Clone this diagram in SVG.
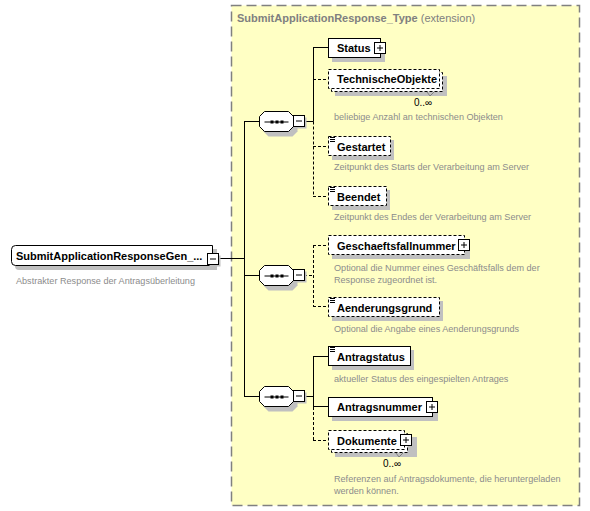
<svg xmlns="http://www.w3.org/2000/svg" width="590" height="511" viewBox="0 0 590 511">
<style>
.name{font-family:"Liberation Sans",Arial,sans-serif;font-weight:bold;font-size:11px;fill:#000}
.desc{font-family:"Liberation Sans",Arial,sans-serif;font-size:9.1px;fill:#8c8c8c}
.occ{font-family:"Liberation Sans",Arial,sans-serif;font-size:10px;fill:#000}
.box{fill:#fff;stroke:#000;stroke-width:1}
.opt{fill:#fff;stroke:#000;stroke-width:1;stroke-dasharray:3,2}
.shadow{fill:#c0c0c0;stroke:none}
.line{fill:none;stroke:#000;stroke-width:1}
.dline{fill:none;stroke:#000;stroke-width:1;stroke-dasharray:3,2}
.ctrl{fill:#fff;stroke:#000;stroke-width:1}
</style>
<defs>
<g id="minus"><rect class="shadow" x="2" y="2" width="11" height="11"/><rect class="ctrl" x="0" y="0" width="11" height="11"/><line class="line" x1="2.5" y1="5.5" x2="8.5" y2="5.5"/></g>
<g id="plus"><rect class="ctrl" x="0" y="0" width="11" height="11"/><line class="line" x1="2.5" y1="5.5" x2="8.5" y2="5.5"/><line class="line" x1="5.5" y1="2.5" x2="5.5" y2="8.5"/></g>
<g id="doc"><line class="line" x1="0" y1="0.5" x2="5" y2="0.5"/><line class="line" x1="0" y1="2.5" x2="5" y2="2.5"/><line class="line" x1="0" y1="4.5" x2="5" y2="4.5"/></g>
<g id="seq">
<polygon class="shadow" points="9,4 33,4 38,9 38,20 33,25 9,25 4,20 4,9"/>
<polygon class="ctrl" points="5,0 29,0 34,5 34,15 29,20 5,20 0,15 0,5"/>
<line class="line" x1="5" y1="10.5" x2="29" y2="10.5"/>
<rect x="11" y="9" width="3" height="3" fill="#000"/><rect x="16" y="9" width="3" height="3" fill="#000"/><rect x="21" y="9" width="3" height="3" fill="#000"/>
</g>
</defs>

<rect id="type-bg" x="231.5" y="5.5" width="348" height="500" fill="#ffffc4" stroke="#808080" stroke-width="1.5" stroke-dasharray="10,5"/>
<text x="237" y="22" font-family="Liberation Sans,Arial,sans-serif" font-size="11px" fill="#808080"><tspan font-weight="bold">SubmitApplicationResponse_Type</tspan> (extension)</text>

<g id="connectors">
<polyline class="line" points="218,258.5 244.5,258.5"/>
<line class="line" x1="244.5" y1="121" x2="244.5" y2="396"/>
<line class="line" x1="244" y1="121.5" x2="259" y2="121.5"/>
<line class="line" x1="244" y1="275.5" x2="259" y2="275.5"/>
<line class="line" x1="244" y1="396.5" x2="259" y2="396.5"/>
<line class="line" x1="304" y1="121.5" x2="313.5" y2="121.5"/>
<line class="line" x1="313.5" y1="47" x2="313.5" y2="121.5"/>
<line class="dline" x1="313.5" y1="121.5" x2="313.5" y2="197"/>
<line class="line" x1="313" y1="47.5" x2="328" y2="47.5"/>
<line class="dline" x1="313" y1="79.5" x2="328" y2="79.5"/>
<line class="dline" x1="313" y1="146.5" x2="328" y2="146.5"/>
<line class="dline" x1="313" y1="196.5" x2="328" y2="196.5"/>
<line class="dline" x1="304" y1="275.5" x2="313.5" y2="275.5"/>
<line class="dline" x1="313.5" y1="245" x2="313.5" y2="307"/>
<line class="dline" x1="313" y1="245.5" x2="328" y2="245.5"/>
<line class="dline" x1="313" y1="306.5" x2="328" y2="306.5"/>
<line class="line" x1="304" y1="396.5" x2="313.5" y2="396.5"/>
<line class="line" x1="313.5" y1="356" x2="313.5" y2="407"/>
<line class="dline" x1="313.5" y1="407" x2="313.5" y2="440"/>
<line class="line" x1="313" y1="356.5" x2="328" y2="356.5"/>
<line class="line" x1="313" y1="406.5" x2="328" y2="406.5"/>
<line class="dline" x1="313" y1="440.5" x2="328" y2="440.5"/>
</g>

<g id="root">
<path class="shadow" d="M19,249 H217 V270 H19 Q15,270 15,266 V253 Q15,249 19,249 Z"/>
<path class="box" d="M15.5,245.5 H212.5 V265.5 H15.5 Q11.5,265.5 11.5,261.5 V249.5 Q11.5,245.5 15.5,245.5 Z"/>
<text class="name" x="16" y="259.5">SubmitApplicationResponseGen_...</text>
<use href="#minus" x="207.5" y="253.5"/>
<text class="desc" x="16" y="284">Abstrakter Response der Antragsüberleitung</text>
</g>

<g id="seq1"><use href="#seq" x="259.5" y="111.5"/><use href="#minus" x="293.5" y="115.5"/></g>
<g id="seq2"><use href="#seq" x="259.5" y="265.5"/><use href="#minus" x="293.5" y="269.5"/></g>
<g id="seq3"><use href="#seq" x="259.5" y="386.5"/><use href="#minus" x="293.5" y="390.5"/></g>

<g id="status">
<rect class="shadow" x="332" y="42" width="53" height="20"/>
<rect class="box" x="328.5" y="38.5" width="52" height="19"/>
<text class="name" x="337" y="52">Status</text>
<use href="#plus" x="374.5" y="42.5"/>
</g>

<g id="technischeobjekte">
<rect class="shadow" x="335" y="76" width="112" height="20"/>
<rect class="opt" x="331.5" y="72.5" width="111" height="19"/>
<rect class="opt" x="328.5" y="69.5" width="111" height="19"/>
<text class="name" x="337" y="83">TechnischeObjekte</text>
<polyline fill="none" stroke="#808080" points="427,92 430,96 434,92"/>
<text class="occ" x="414" y="106">0..∞</text>
<text class="desc" x="334" y="120">beliebige Anzahl an technischen Objekten</text>
</g>

<g id="gestartet">
<rect class="shadow" x="332" y="140" width="62" height="20"/>
<rect class="opt" x="328.5" y="136.5" width="62" height="19"/>
<use href="#doc" x="330" y="137"/>
<text class="name" x="337" y="151">Gestartet</text>
<text class="desc" x="334" y="170">Zeitpunkt des Starts der Verarbeitung am Server</text>
</g>

<g id="beendet">
<rect class="shadow" x="332" y="190" width="58" height="20"/>
<rect class="opt" x="328.5" y="186.5" width="58" height="19"/>
<use href="#doc" x="330" y="187"/>
<text class="name" x="337" y="201">Beendet</text>
<text class="desc" x="334" y="220">Zeitpunkt des Endes der Verarbeitung am Server</text>
</g>

<g id="geschaeftsfallnummer">
<rect class="shadow" x="332" y="239" width="138" height="20"/>
<rect class="opt" x="328.5" y="235.5" width="136" height="19"/>
<text class="name" x="337" y="250">Geschaeftsfallnummer</text>
<use href="#plus" x="458.5" y="239.5"/>
<text class="desc" x="334" y="271">Optional die Nummer eines Geschäftsfalls dem der</text>
<text class="desc" x="334" y="283">Response zugeordnet ist.</text>
</g>

<g id="aenderungsgrund">
<rect class="shadow" x="332" y="301" width="111" height="20"/>
<rect class="opt" x="328.5" y="297.5" width="111" height="19"/>
<use href="#doc" x="330" y="298"/>
<text class="name" x="337" y="312">Aenderungsgrund</text>
<text class="desc" x="334" y="332">Optional die Angabe eines Aenderungsgrunds</text>
</g>

<g id="antragstatus">
<rect class="shadow" x="332" y="350" width="82" height="20"/>
<rect class="box" x="328.5" y="346.5" width="82" height="19"/>
<use href="#doc" x="330" y="347"/>
<text class="name" x="337" y="361">Antragstatus</text>
<text class="desc" x="334" y="382">aktueller Status des eingespielten Antrages</text>
</g>

<g id="antragsnummer">
<rect class="shadow" x="332" y="401" width="106" height="20"/>
<rect class="box" x="328.5" y="397.5" width="104" height="19"/>
<text class="name" x="337" y="411">Antragsnummer</text>
<use href="#plus" x="426.5" y="401.5"/>
</g>

<g id="dokumente">
<rect class="shadow" x="335" y="437" width="82" height="20"/>
<rect class="opt" x="331.5" y="433.5" width="76" height="19"/>
<rect class="opt" x="328.5" y="430.5" width="76" height="19"/>
<text class="name" x="337" y="445">Dokumente</text>
<use href="#plus" x="400.5" y="434.5"/>
<polyline fill="none" stroke="#808080" points="396,453 399,457 403,453"/>
<text class="occ" x="383" y="467">0..∞</text>
<text class="desc" x="334" y="482">Referenzen auf Antragsdokumente, die heruntergeladen</text>
<text class="desc" x="334" y="494">werden können.</text>
</g>
</svg>
